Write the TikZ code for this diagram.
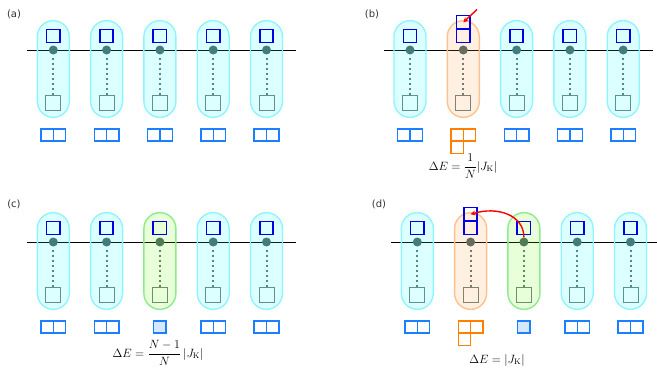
\documentclass[tikz,border=0pt]{standalone}
\usepackage{fontspec}
\usepackage{amsmath}
\newfontfamily\labfont{DejaVu Sans}
\usetikzlibrary{arrows.meta}
\definecolor{capcD}{HTML}{8EF4FF}
\definecolor{capcF}{HTML}{12FFFF}
\definecolor{capoD}{HTML}{FFC18E}
\definecolor{capoF}{HTML}{FF9933}
\definecolor{capgD}{HTML}{8CEB8C}
\definecolor{capgF}{HTML}{66FF00}
\definecolor{topblue}{HTML}{0000E6}
\definecolor{ydblue}{HTML}{1A80FF}
\definecolor{ydorange}{HTML}{FF8000}
\definecolor{dotcol}{HTML}{4C6666}
\definecolor{gsqcol}{HTML}{6A8080}
\definecolor{labcol}{HTML}{333333}
\tikzset{
  x=1pt, y=-1pt,
  axisline/.style={draw=black, line width=0.8pt},
  capbase/.style={rounded corners=16pt, minimum width=32pt, minimum height=96.7pt, line width=1.4pt, fill opacity=0.15, inner sep=0pt},
  capc/.style={capbase, draw=capcD, fill=capcF},
  capo/.style={capbase, draw=capoD, fill=capoF},
  capg/.style={capbase, draw=capgD, fill=capgF},
  dotn/.style={circle, fill=dotcol, minimum size=9pt, inner sep=0pt},
  gsq/.style={draw=gsqcol, line width=0.9pt, minimum size=15pt, inner sep=0pt},
  dotline/.style={draw=dotcol!90, line width=2pt, dash pattern=on 2.5pt off 2.5pt},
  tsq/.style={draw=topblue, line width=1.6pt, minimum size=13.3pt, inner sep=0pt},
  ydbox/.style={line width=1.4pt, minimum width=12.4pt, minimum height=11.8pt, inner sep=0pt},
  ydb/.style={ydbox, draw=ydblue},
  ydo/.style={ydbox, draw=ydorange},
  panlab/.style={font=\labfont\fontsize{10}{12}\selectfont, text=labcol, inner sep=0pt},
  formula/.style={font=\fontsize{12}{14}\selectfont, inner sep=0pt, anchor=base},
  redarr/.style={draw=red, line width=1.4pt, -{Stealth[length=5pt,width=5pt]}},
  topone/.pic={\node[tsq] (-a) at (0,0) {};},
  toptwo/.pic={\node[tsq] (-a) at (0,0) {}; \node[tsq] (-b) at (0,-13.7) {};},
  ydtwo/.pic={\node[ydb] (-a) at (-6.2,0) {}; \node[ydb] (-b) at (6.2,0) {};},
  ydL/.pic={\node[ydo] (-a) at (-6.2,0) {}; \node[ydo] (-b) at (6.2,0) {}; \node[ydo] (-c) at (-6.2,12.3) {};},
  ydone/.pic={\node[ydb, fill=ydblue!18] (-a) at (0,0) {};},
}
\newcommand\mypanel[4]{%
\begin{scope}[shift={(#2,#3)}]
  \coordinate (#1L) at (27,50);
  \coordinate (#1R) at (296,50);
  \draw[axisline] (#1L) -- (#1R);
  \foreach \cs/\tp/\bp [count=\k] in {#4} {
    \pgfmathsetmacro\xx{53.3*\k}
    \node[dotn] (#1d\k) at (\xx,50) {};
    \node[gsq] (#1g\k) at (\xx,102.5) {};
    \draw[dotline] ([yshift=-3pt]#1d\k.south) -- (#1g\k.north);
    \node[\cs] (#1c\k) at (\xx,69) {};
    \pic (#1t\k) at (\xx,36) {\tp};
    \pic (#1y\k) at (\xx,135) {\bp};
  }
\end{scope}}
\begin{document}
\begin{tikzpicture}
\useasboundingbox (0,0) rectangle (657,372);
% (a)
\node[panlab] (laba) at (14,14) {(a)};
\mypanel{a}{0}{0}{capc/topone/ydtwo,capc/topone/ydtwo,capc/topone/ydtwo,capc/topone/ydtwo,capc/topone/ydtwo}
% (b)
\node[panlab] (labb) at (372,14) {(b)};
\mypanel{b}{356.7}{0}{capc/topone/ydtwo,capo/toptwo/ydL,capc/topone/ydtwo,capc/topone/ydtwo,capc/topone/ydtwo}
\coordinate (bstart) at (477,9.5);
\draw[redarr] (bstart) -- (bt2-b.center);
\node[formula] (fb) at (463,170) {$\Delta E=\dfrac{1}{N}|J_{\mathrm{K}}|$};
% (c)
\node[panlab] (labc) at (14,204) {(c)};
\mypanel{c}{0}{192}{capc/topone/ydtwo,capc/topone/ydtwo,capg/topone/ydone,capc/topone/ydtwo,capc/topone/ydtwo}
\node[formula] (fc) at (158,357) {$\Delta E=\dfrac{N-1}{N}\,|J_{\mathrm{K}}|$};
% (d)
\node[panlab] (labd) at (379,204) {(d)};
\mypanel{d}{364}{192}{capc/topone/ydtwo,capo/toptwo/ydL,capg/topone/ydone,capc/topone/ydtwo,capc/topone/ydtwo}
\draw[redarr] (dd3.north) .. controls ++(0,-22) and (498,206) .. (dt2-b.center);
\node[formula] (fd) at (497,363) {$\Delta E=|J_{\mathrm{K}}|$};
\end{tikzpicture}
\end{document}
